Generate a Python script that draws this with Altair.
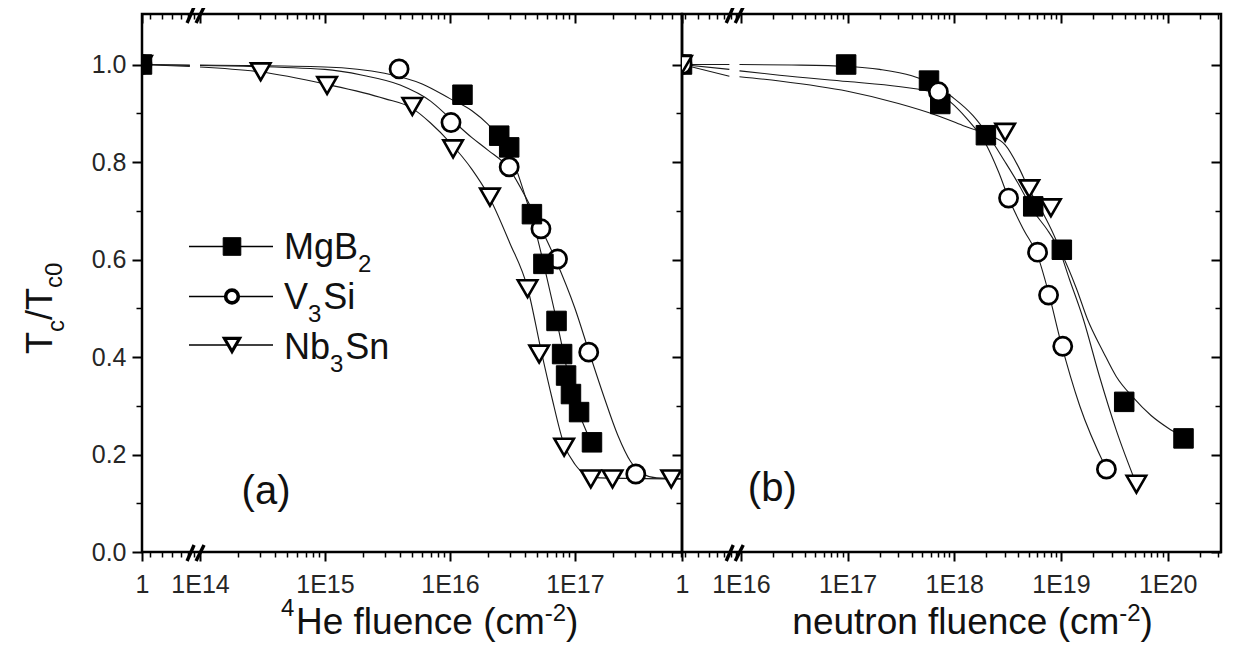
import altair as alt
import pandas as pd

# ---------------- data ----------------
SERIES = ["MgB2", "V3Si", "Nb3Sn"]

# panel (a): 4He fluence (cm^-2); the value 1 is the unirradiated point at the axis origin
A_MGB2_X = [1, 1.26e16, 2.48e16, 2.98e16, 4.53e16, 5.6e16, 7.13e16, 7.9e16, 8.5e16, 9.3e16, 1.08e17, 1.37e17]
A_MGB2_Y = [1.0, 0.938, 0.854, 0.830, 0.693, 0.591, 0.474, 0.406, 0.362, 0.324, 0.287, 0.225]
A_V3SI_X = [1, 3.92e15, 1.02e16, 2.98e16, 5.35e16, 7.26e16, 1.29e17, 3.07e17]
A_V3SI_Y = [1.0, 0.991, 0.881, 0.790, 0.663, 0.601, 0.410, 0.160]
A_NB3SN_X = [1, 3.06e14, 1.04e15, 5.0e15, 1.06e16, 2.09e16, 4.18e16, 5.18e16, 8.2e16, 1.34e17, 2.0e17, 5.9e17]
A_NB3SN_Y = [1.0, 0.985, 0.957, 0.914, 0.827, 0.728, 0.540, 0.406, 0.215, 0.150, 0.150, 0.150]

# fitted curves of panel (a)
A_MGB2_FIT_X = [1, 8.3e13, 1.0e14, 1e15, 3e15, 6e15, 1e16, 1.5e16, 2e16, 2.5e16, 3e16, 4e16, 5e16, 6e16, 7e16, 8e16, 9e16, 1.1e17, 1.45e17]
A_MGB2_FIT_Y = [1.0, 0.999, 0.999, 0.995, 0.982, 0.960, 0.930, 0.905, 0.878, 0.850, 0.820, 0.730, 0.645, 0.560, 0.485, 0.415, 0.355, 0.280, 0.210]
A_V3SI_FIT_X = [1, 8.3e13, 1.0e14, 1e15, 2e15, 4e15, 7e15, 1e16, 1.5e16, 2e16, 3e16, 4e16, 5e16, 7e16, 1e17, 1.3e17, 1.7e17, 2.2e17, 2.8e17, 3.5e17, 4.5e17, 7.2e17]
A_V3SI_FIT_Y = [1.0, 0.998, 0.998, 0.990, 0.978, 0.958, 0.925, 0.890, 0.850, 0.825, 0.785, 0.730, 0.680, 0.600, 0.500, 0.410, 0.320, 0.240, 0.185, 0.160, 0.152, 0.150]
A_NB3SN_FIT_X = [1, 8.3e13, 1.0e14, 3e14, 1e15, 3e15, 5e15, 7e15, 1e16, 1.5e16, 2e16, 3e16, 4.2e16, 5.4e16, 6.5e16, 8.2e16, 1e17, 1.2e17, 1.6e17, 7.2e17]
A_NB3SN_FIT_Y = [1.0, 0.996, 0.995, 0.985, 0.960, 0.930, 0.910, 0.880, 0.840, 0.785, 0.735, 0.635, 0.540, 0.410, 0.320, 0.220, 0.180, 0.160, 0.152, 0.150]

# panel (b): neutron fluence (cm^-2)
B_MGB2_X = [1, 9.7e16, 5.8e17, 7.4e17, 1.98e18, 5.5e18, 1.02e19, 3.92e19, 1.41e20]
B_MGB2_Y = [1.0, 1.0, 0.967, 0.919, 0.855, 0.709, 0.620, 0.308, 0.233]
B_V3SI_X = [1, 7.1e17, 3.23e18, 6.04e18, 7.66e18, 1.04e19, 2.67e19]
B_V3SI_Y = [1.0, 0.944, 0.726, 0.615, 0.527, 0.422, 0.170]
B_NB3SN_X = [1, 3.0e18, 5.05e18, 8.06e18, 5.1e19]
B_NB3SN_Y = [1.0, 0.861, 0.745, 0.706, 0.139]

B_MGB2_FIT_X = [1, 7.8e15, 9.7e15, 3e16, 1e17, 2e17, 4e17, 6e17, 8e17, 1e18, 1.5e18, 2e18, 3e18, 4e18, 5.5e18, 7.5e18, 1e19, 1.4e19, 1.77e19, 2.5e19, 3.3e19, 4.7e19, 7e19, 1e20, 1.41e20]
B_MGB2_FIT_Y = [1.0, 1.0, 1.0, 0.999, 0.996, 0.990, 0.977, 0.962, 0.945, 0.930, 0.895, 0.860, 0.800, 0.755, 0.700, 0.660, 0.615, 0.540, 0.478, 0.410, 0.360, 0.318, 0.280, 0.255, 0.236]
B_V3SI_FIT_X = [1, 7.8e15, 9.7e15, 2.3e16, 1e17, 3e17, 7e17, 1.3e18, 2e18, 2.6e18, 3.23e18, 4.5e18, 6e18, 7.7e18, 1e19, 1.5e19, 2.67e19]
B_V3SI_FIT_Y = [1.0, 0.990, 0.987, 0.978, 0.965, 0.955, 0.940, 0.890, 0.835, 0.780, 0.726, 0.660, 0.610, 0.530, 0.430, 0.300, 0.170]
B_NB3SN_FIT_X = [1, 7.8e15, 9.7e15, 2.3e16, 1e17, 3e17, 7e17, 1.2e18, 2e18, 3e18, 4e18, 5e18, 7e18, 9e18, 1.2e19, 1.62e19, 2.3e19, 3.3e19, 5.1e19]
B_NB3SN_FIT_Y = [1.0, 0.976, 0.975, 0.966, 0.945, 0.920, 0.895, 0.875, 0.857, 0.835, 0.790, 0.745, 0.690, 0.640, 0.560, 0.478, 0.360, 0.250, 0.139]

# axis settings
A_DOMAIN = [10 ** 13.536, 10 ** 17.857]
B_DOMAIN = [10 ** 15.448, 10 ** 20.5006]
A_BREAK = 9.3e13
B_BREAK = 8.85e15
Y_DOMAIN = [0, 1.1036]
Y_MAJOR = [0.0, 0.2, 0.4, 0.6, 0.8, 1.0]
Y_MINOR = [0.1, 0.3, 0.5, 0.7, 0.9]

W_A, W_B, H = 540, 539, 538
FONT = "Liberation Sans"
INK = "#111111"


def minor_ticks(dom, k0, k1):
    out = []
    for k in range(k0, k1 + 1):
        for m in range(2, 10):
            v = m * 10 ** k
            if dom[0] < v < dom[1]:
                out.append(v)
    return out


def majors(dom, k0, k1):
    return [dom[0]] + [10.0 ** k for k in range(k0, k1 + 1)]


def points_df(xs, ys):
    return pd.DataFrame({"f": xs, "t": ys})


def curve_df(xs, ys, brk, name):
    return pd.DataFrame({"f": xs, "t": ys,
                         "seg": [name + ("0" if x < brk else "1") for x in xs]})


ONE = pd.DataFrame({"k": [0]})


def txt(s, x, y, size, angle=0, align="left", baseline="alphabetic"):
    return alt.Chart(ONE).mark_text(
        text=s, font=FONT, fontSize=size, angle=angle, align=align,
        baseline=baseline, color=INK
    ).encode(x=alt.value(x), y=alt.value(y))


def xaxis(values, major, labels=False, top=False, expr=""):
    kw = dict(values=values, orient="bottom", tickSize=9 if major else 5,
              tickWidth=2 if major else 1.5, tickColor="black", domain=False,
              grid=False, title=None, labels=labels)
    if top:
        kw["offset"] = -H
    if labels:
        kw.update(labelExpr=expr, labelFontSize=25, labelFont=FONT, labelColor="#262626",
                  labelPadding=11, labelFlush=False, labelOverlap=False)
    return alt.Axis(**kw)


def yaxis(major, labels=False, offset=0):
    kw = dict(values=Y_MAJOR if major else Y_MINOR, orient="left",
              tickSize=10 if major else 6, tickWidth=2 if major else 1.5,
              tickColor="black", domain=False, grid=False, title=None, labels=labels)
    if offset:
        kw["offset"] = offset
    if labels:
        kw.update(format=".1f", labelFontSize=25, labelFont=FONT, labelColor="#262626",
                  labelPadding=6, labelFlush=False)
    return alt.Axis(**kw)


STYLE = {
    "MgB2": dict(shape="square", fill="black", stroke="black", strokeWidth=1, size=380),
    "V3Si": dict(shape="circle", fill="white", stroke="black", strokeWidth=2.7, size=330),
    "Nb3Sn": dict(shape="triangle-down", fill="white", stroke="black", strokeWidth=2.6, size=380),
}
LEG_STYLE = {
    "MgB2": dict(shape="square", fill="black", stroke="black", strokeWidth=1, size=310),
    "V3Si": dict(shape="circle", fill="white", stroke="black", strokeWidth=3.6, size=160),
    "Nb3Sn": dict(shape="triangle-down", fill="white", stroke="black", strokeWidth=3.2, size=230),
}


def pts_layer(df, name, xs, ys, xax, yax):
    return alt.Chart(df).mark_point(filled=True, opacity=1, clip=True, **STYLE[name]).encode(
        x=alt.X("f:Q", scale=xs, axis=xax),
        y=alt.Y("t:Q", scale=ys, axis=yax),
    )


def break_marks(xs, brk):
    layers = []
    for yb in (0, H):
        for o1, o2 in ((-9, -2), (0, 8)):
            layers.append(
                alt.Chart(ONE).mark_rule(color="black", strokeWidth=3.4, xOffset=o1, x2Offset=o2).encode(
                    x=alt.X(datum=brk, type="quantitative", scale=xs, axis=None),
                    x2=alt.X2(datum=brk),
                    y=alt.value(yb + 9), y2=alt.value(yb - 7),
                )
            )
    return layers


ys = alt.Scale(type="linear", domain=Y_DOMAIN, nice=False, zero=False)

# ---------------- panel (a) ----------------
xa = alt.Scale(type="log", domain=A_DOMAIN, clamp=True, nice=False)
a_curves = pd.concat([
    curve_df(A_MGB2_FIT_X, A_MGB2_FIT_Y, A_BREAK, "MgB2"),
    curve_df(A_V3SI_FIT_X, A_V3SI_FIT_Y, A_BREAK, "V3Si"),
    curve_df(A_NB3SN_FIT_X, A_NB3SN_FIT_Y, A_BREAK, "Nb3Sn"),
])
a_expr = "datum.value < 5e13 ? '1' : '1E' + round(log(datum.value) / LN10)"
a_major = majors(A_DOMAIN, 14, 17)
a_minor = minor_ticks(A_DOMAIN, 13, 17)

a_lines = alt.Chart(a_curves).mark_line(color="#1a1a1a", strokeWidth=1.1, clip=True, interpolate="monotone").encode(
    x=alt.X("f:Q", scale=xa, axis=xaxis(a_major, True, labels=True, expr=a_expr)),
    y=alt.Y("t:Q", scale=ys, axis=yaxis(True, labels=True)),
    detail="seg:N",
)
a_layers = [
    a_lines,
    pts_layer(points_df(A_NB3SN_X, A_NB3SN_Y), "Nb3Sn", xa, ys, xaxis(a_minor, False), yaxis(False)),
    pts_layer(points_df(A_V3SI_X, A_V3SI_Y), "V3Si", xa, ys, xaxis(a_major, True, top=True), None),
    pts_layer(points_df(A_MGB2_X, A_MGB2_Y), "MgB2", xa, ys, xaxis(a_minor, False, top=True), None),
] + break_marks(xa, A_BREAK)

# legend
LEG_Y = [232.5, 282.5, 331]
for name, yy in zip(SERIES, LEG_Y):
    a_layers.append(alt.Chart(ONE).mark_rule(color="black", strokeWidth=1.4).encode(
        x=alt.value(47), x2=alt.value(131), y=alt.value(yy)))
for name, yy in zip(SERIES, LEG_Y):
    a_layers.append(alt.Chart(ONE).mark_point(filled=True, opacity=1, **LEG_STYLE[name]).encode(
        x=alt.value(90), y=alt.value(yy)))
a_layers += [
    txt("MgB", 142, 245, 36), txt("2", 216, 258, 24),
    txt("V", 142, 295, 36), txt("3", 166, 308, 24), txt("Si", 181.3, 295, 36),
    txt("Nb", 142, 345, 36), txt("3", 188, 358, 24), txt("Sn", 203.3, 345, 36),
    txt("(a)", 124, 478, 40, align="center", baseline="middle"),
    # y title  T_c / T_c0
    txt("T", -90, 340, 36, angle=270), txt("c", -78, 318, 24, angle=270),
    txt("/", -90, 306, 36, angle=270), txt("T", -90, 296, 36, angle=270),
    txt("c0", -80, 274, 24, angle=270),
    # x title  4He fluence (cm-2)
    txt("4", 139, 602, 24), txt("He fluence (cm", 154, 620, 37),
    txt("-2", 402.8, 607, 24), txt(")", 424.1, 620, 37),
]
panel_a = alt.layer(*a_layers).resolve_axis(x="independent", y="independent").properties(width=W_A, height=H)

# ---------------- panel (b) ----------------
xb = alt.Scale(type="log", domain=B_DOMAIN, clamp=True, nice=False)
b_curves = pd.concat([
    curve_df(B_MGB2_FIT_X, B_MGB2_FIT_Y, B_BREAK, "MgB2"),
    curve_df(B_V3SI_FIT_X, B_V3SI_FIT_Y, B_BREAK, "V3Si"),
    curve_df(B_NB3SN_FIT_X, B_NB3SN_FIT_Y, B_BREAK, "Nb3Sn"),
])
b_expr = "datum.value < 5e15 ? '1' : '1E' + round(log(datum.value) / LN10)"
b_major = majors(B_DOMAIN, 16, 20)
b_minor = minor_ticks(B_DOMAIN, 15, 20)

b_lines = alt.Chart(b_curves).mark_line(color="#1a1a1a", strokeWidth=1.1, clip=True, interpolate="monotone").encode(
    x=alt.X("f:Q", scale=xb, axis=xaxis(b_major, True, labels=True, expr=b_expr)),
    y=alt.Y("t:Q", scale=ys, axis=yaxis(True)),
    detail="seg:N",
)
b_layers = [
    b_lines,
    pts_layer(points_df(B_MGB2_X, B_MGB2_Y), "MgB2", xb, ys, xaxis(b_minor, False), yaxis(False)),
    pts_layer(points_df(B_V3SI_X, B_V3SI_Y), "V3Si", xb, ys, xaxis(b_major, True, top=True), yaxis(True, offset=-W_B)),
    pts_layer(points_df(B_NB3SN_X, B_NB3SN_Y), "Nb3Sn", xb, ys, xaxis(b_minor, False, top=True), yaxis(False, offset=-W_B)),
] + break_marks(xb, B_BREAK) + [
    txt("(b)", 90.3, 475, 40, align="center", baseline="middle"),
    txt("neutron fluence (cm", 110.3, 620, 37),
    txt("-2", 437.3, 607, 24), txt(")", 458.6, 620, 37),
]
panel_b = alt.layer(*b_layers).resolve_axis(x="independent", y="independent").properties(width=W_B, height=H)

chart = alt.hconcat(panel_a, panel_b, spacing=0, bounds="flush").configure_view(
    stroke="black", strokeWidth=2.5
).properties(
    padding={"left": 13, "top": -4, "right": 5, "bottom": 5},
    background="white",
)

chart.save("out.html", embed_options={"renderer": "svg", "actions": False})
